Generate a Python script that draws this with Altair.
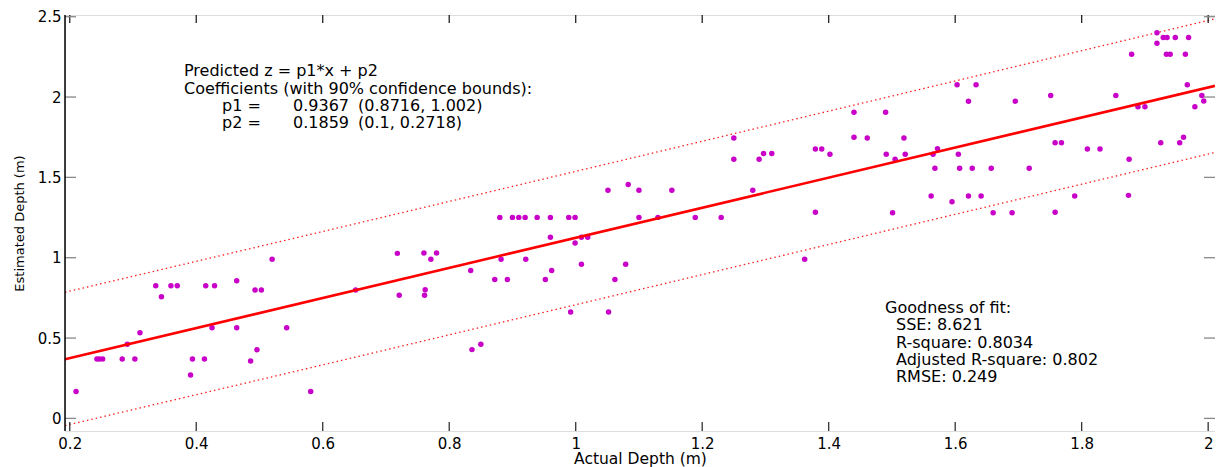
import altair as alt
import pandas as pd

# ---- data ----
actual = [0.210, 0.243, 0.247, 0.252, 0.283, 0.291, 0.303, 0.311, 0.336, 0.345,
          0.360, 0.370, 0.391, 0.394, 0.413, 0.415, 0.425, 0.429, 0.464, 0.464,
          0.486, 0.493, 0.496, 0.503, 0.520, 0.543, 0.581, 0.652, 0.718, 0.721,
          0.760, 0.771, 0.780, 0.762, 0.761, 0.834, 0.836, 0.850, 0.872, 0.880,
          0.882, 0.892, 0.900, 0.910, 0.920, 0.921, 0.939, 0.952, 0.960, 0.960,
          0.962, 0.989, 0.992, 0.999, 0.999, 1.009, 1.019, 1.009, 1.051, 1.052,
          1.062, 1.079, 1.083, 1.100, 1.100, 1.130, 1.152, 1.189, 1.230, 1.250,
          1.250, 1.280, 1.290, 1.297, 1.310, 1.362, 1.379, 1.389, 1.402, 1.379,
          1.440, 1.440, 1.461, 1.490, 1.491, 1.505, 1.519, 1.521, 1.501, 1.562,
          1.565, 1.572, 1.568, 1.595, 1.603, 1.605, 1.607, 1.621, 1.621, 1.627,
          1.633, 1.641, 1.657, 1.660, 1.690, 1.695, 1.717, 1.751, 1.758, 1.768,
          1.758, 1.789, 1.809, 1.829, 1.854, 1.874, 1.875, 1.879, 1.889, 1.900,
          1.919, 1.919, 1.929, 1.935, 1.948, 1.969, 1.934, 1.940, 1.964, 1.925,
          1.955, 1.961, 1.967, 1.979, 1.990, 1.993]
estimated = [0.168, 0.369, 0.369, 0.369, 0.369, 0.461, 0.369, 0.533, 0.826, 0.757,
             0.826, 0.826, 0.270, 0.369, 0.369, 0.826, 0.564, 0.826, 0.857, 0.564,
             0.357, 0.799, 0.427, 0.799, 0.990, 0.564, 0.168, 0.799, 1.027, 0.766,
             1.029, 0.990, 1.029, 0.801, 0.766, 0.921, 0.428, 0.461, 0.865, 1.251,
             0.990, 0.865, 1.251, 1.251, 1.251, 0.990, 1.251, 0.865, 1.251, 1.127,
             0.921, 1.251, 0.662, 1.251, 1.091, 1.127, 1.127, 0.959, 1.420, 0.662,
             0.865, 0.959, 1.455, 1.420, 1.251, 1.251, 1.420, 1.251, 1.251, 1.745,
             1.613, 1.420, 1.613, 1.648, 1.648, 0.990, 1.677, 1.677, 1.644, 1.283,
             1.905, 1.750, 1.745, 1.905, 1.644, 1.613, 1.745, 1.644, 1.280, 1.384,
             1.644, 1.679, 1.557, 1.349, 2.077, 1.644, 1.557, 1.974, 1.384, 1.557,
             2.077, 1.384, 1.557, 1.280, 1.280, 1.974, 1.557, 2.009, 1.716, 1.716,
             1.283, 1.384, 1.677, 1.677, 2.009, 1.388, 1.613, 2.266, 1.940, 1.940,
             2.400, 2.335, 2.370, 2.370, 2.370, 2.370, 2.266, 2.266, 2.266, 1.716,
             1.716, 1.750, 2.077, 1.940, 2.009, 1.976]

fit_x = [0.1925, 2.0108]
fit_y = [0.368, 2.070]

bound_x = [0.1925, 0.6, 1.1, 1.6, 2.0108]
upper = [0.785, 1.163, 1.631, 2.100, 2.487]
lower = [-0.045, 0.333, 0.801, 1.270, 1.655]

x_ticks = [0.2, 0.4, 0.6, 0.8, 1.0, 1.2, 1.4, 1.6, 1.8, 2.0]
y_ticks = [0, 0.5, 1, 1.5, 2, 2.5]

fit_text = ["Predicted z = p1*x + p2", "Coefficients (with 90% confidence bounds):"]
coef_names = ["p1 =", "p2 ="]
coef_vals = ["0.9367", "0.1859"]
coef_bounds = ["(0.8716, 1.002)", "(0.1, 0.2718)"]
gof_title = "Goodness of fit:"
gof_lines = ["SSE: 8.621", "R-square: 0.8034", "Adjusted R-square: 0.802", "RMSE: 0.249"]

# ---- layout ----
W, H = 1150, 416
FONT = "DejaVu Sans"

xscale = alt.Scale(domain=[0.1925, 2.0108], nice=False, zero=False)
yscale = alt.Scale(domain=[-0.0785, 2.5106], nice=False, zero=False)
xaxis = alt.Axis(values=x_ticks, format="~g", ticks=False, domain=False, grid=False,
                 labelFlush=False, labelPadding=5, labelFont=FONT, labelFontSize=15,
                 labelColor="black", title="Actual Depth (m)", titleFont=FONT,
                 titleFontSize=15.5, titleFontWeight="normal", titleBaseline="middle",
                 titleY=27.5, titleColor="black")
yaxis = alt.Axis(values=y_ticks, format="~g", ticks=False, domain=False, grid=False,
                 labelFlush=False, labelPadding=4, labelFont=FONT, labelFontSize=15,
                 labelColor="black", title="Estimated Depth (m)", titleFont=FONT,
                 titleFontSize=13, titleFontWeight="normal", titlePadding=11,
                 titleColor="black")

pts = pd.DataFrame({"actual": actual, "estimated": estimated})
fit = pd.DataFrame({"x": fit_x, "y": fit_y})
bnd = pd.DataFrame({"x": bound_x, "upper": upper, "lower": lower})
xt = pd.DataFrame({"t": x_ticks})
yt = pd.DataFrame({"t": y_ticks})

bounds = alt.Chart(bnd).transform_fold(["upper", "lower"], as_=["which", "v"]).mark_line(
    color="#ff2020", strokeWidth=1.3, strokeDash=[1.5, 3]
).encode(
    x=alt.X("x:Q", scale=xscale, axis=xaxis),
    y=alt.Y("v:Q", scale=yscale, axis=yaxis),
    detail="which:N",
)

points = alt.Chart(pts).mark_circle(color="#c800c8", size=30, opacity=1).encode(
    x=alt.X("actual:Q", scale=xscale, axis=xaxis),
    y=alt.Y("estimated:Q", scale=yscale, axis=yaxis),
)

fitline = alt.Chart(fit).mark_line(color="#ff0000", strokeWidth=2.6).encode(
    x=alt.X("x:Q", scale=xscale, axis=xaxis),
    y=alt.Y("y:Q", scale=yscale, axis=yaxis),
)

# inward-pointing tick marks (MATLAB box style)
tick_bottom = alt.Chart(xt).mark_rule(color="#333333", strokeWidth=1.3).encode(
    x=alt.X("t:Q", scale=xscale, axis=xaxis), y=alt.value(H), y2=alt.value(H - 9))
tick_top = alt.Chart(xt).mark_rule(color="#222222", strokeWidth=1.3).encode(
    x=alt.X("t:Q", scale=xscale, axis=xaxis), y=alt.value(0), y2=alt.value(8))
tick_left = alt.Chart(yt).mark_rule(color="#888888", strokeWidth=1.3).encode(
    y=alt.Y("t:Q", scale=yscale, axis=yaxis), x=alt.value(0), x2=alt.value(11))
tick_right = alt.Chart(yt).mark_rule(color="#888888", strokeWidth=1.3).encode(
    y=alt.Y("t:Q", scale=yscale, axis=yaxis), x=alt.value(W), x2=alt.value(W - 11))
left_border = alt.Chart(xt.head(1)).mark_rule(color="black", strokeWidth=1.5).encode(
    x=alt.value(0), y=alt.value(0), y2=alt.value(H))

def label(txt, px, py):
    return alt.Chart(pd.DataFrame({"s": [txt]})).mark_text(
        align="left", baseline="alphabetic", font=FONT, fontSize=16, color="black"
    ).encode(text="s:N", x=alt.value(px), y=alt.value(py))

texts = [
    label(fit_text[0], 119, 61),
    label(fit_text[1], 119, 78.5),
    label(coef_names[0], 157, 96),
    label(coef_vals[0], 228, 96),
    label(coef_bounds[0], 293, 96),
    label(coef_names[1], 157, 113),
    label(coef_vals[1], 228, 113),
    label(coef_bounds[1], 293, 113),
    label(gof_title, 820, 298),
]
for i, s in enumerate(gof_lines):
    texts.append(label(s, 831, 315.3 + 17.3 * i))

chart = alt.layer(
    bounds, points, fitline, tick_bottom, tick_top, tick_left, tick_right, left_border, *texts
).properties(
    width=W, height=H,
    autosize=alt.AutoSizeParams(type="none"),
    padding={"left": 57, "top": 7, "right": 0, "bottom": 40},
).configure_view(stroke="#a0a0a0", strokeWidth=1.6).configure(background="white")

chart.save("out.html", embed_options={"renderer": "svg", "actions": False})
